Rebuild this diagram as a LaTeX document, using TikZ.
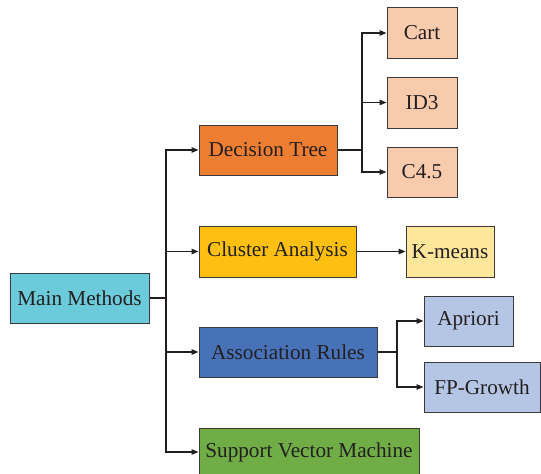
\documentclass[tikz,border=0pt]{standalone}
\usepackage{fontspec}
\setmainfont{Liberation Serif}
\usetikzlibrary{arrows.meta}
\definecolor{ink}{HTML}{231F20}
\definecolor{edge}{HTML}{3A3A3A}
\definecolor{cmain}{HTML}{6CCBDA}
\definecolor{cdt}{HTML}{ED7D31}
\definecolor{cdtsub}{HTML}{F8CBAD}
\definecolor{cca}{HTML}{FDC010}
\definecolor{ccasub}{HTML}{FEE69B}
\definecolor{car}{HTML}{4872B8}
\definecolor{carsub}{HTML}{B4C6E4}
\definecolor{csvm}{HTML}{70AD47}
\tikzset{
  box/.style={draw=edge, line width=1pt, rectangle, inner sep=0pt,
    text=ink, font=\fontsize{21.2}{25}\selectfont},
  link/.style={draw=ink, line width=1.2pt},
  arr/.style={link, -{Triangle[length=7pt,width=5.5pt]}}
}
\begin{document}
\begin{tikzpicture}[x=1pt,y=-1pt]
\useasboundingbox (0,0) rectangle (541,474);

% root
\node[box, fill=cmain, minimum width=139pt, minimum height=50pt] (main) at (79.5,298) {Main Methods};

% method boxes
\node[box, fill=cdt, minimum width=138pt, minimum height=50pt] (dt) at (268,150) {Decision Tree};
\node[box, fill=cca, minimum width=157pt, minimum height=51pt] (ca) at (277.5,251.5) {Cluster Analysis};
\node[box, fill=car, minimum width=178pt, minimum height=50pt] (ar) at (288,352) {Association Rules};
\node[box, fill=csvm, minimum width=220pt, minimum height=48pt] (svm) at (309,452) {Support Vector Machine};

% decision tree algorithms
\node[box, fill=cdtsub, minimum width=70pt, minimum height=51pt] (cart) at (422,33) {Cart};
\node[box, fill=cdtsub, minimum width=70pt, minimum height=51pt] (id3) at (422,102.5) {ID3};
\node[box, fill=cdtsub, minimum width=70pt, minimum height=50pt] (c45) at (422,172) {C4.5};

% clustering algorithm
\node[box, fill=ccasub, minimum width=88pt, minimum height=51pt] (km) at (450,251.5) {K-means};

% association rule algorithms
\node[box, fill=carsub, minimum width=89pt, minimum height=50pt] (apr) at (468.5,321) {Apriori};
\node[box, fill=carsub, minimum width=116pt, minimum height=50pt] (fp) at (482,387) {FP-Growth};

% junction points
\coordinate (trunk) at (166,298);
\coordinate (dtj) at (362,150);
\coordinate (arj) at (397,352);

% root to methods
\draw[link, line width=1.6pt] (main.east) -- (trunk);
\draw[arr] (trunk) |- (dt.west);
\draw[arr] (trunk) |- (ca.west);
\draw[arr] (trunk) |- (ar.west);
\draw[arr] (trunk) |- (svm.west);

% decision tree branch
\draw[link, line width=1.6pt] (dt.east) -- (dtj);
\draw[arr] (dtj) |- (cart.west);
\draw[arr] (dtj) |- (id3.west);
\draw[arr] (dtj) |- (c45.west);

% cluster analysis branch
\draw[arr] (ca.east) -- (km.west);

% association rules branch
\draw[link, line width=1.6pt] (ar.east) -- (arj);
\draw[arr] (arj) |- (apr.west);
\draw[arr] (arj) |- (fp.west);
\end{tikzpicture}
\end{document}
